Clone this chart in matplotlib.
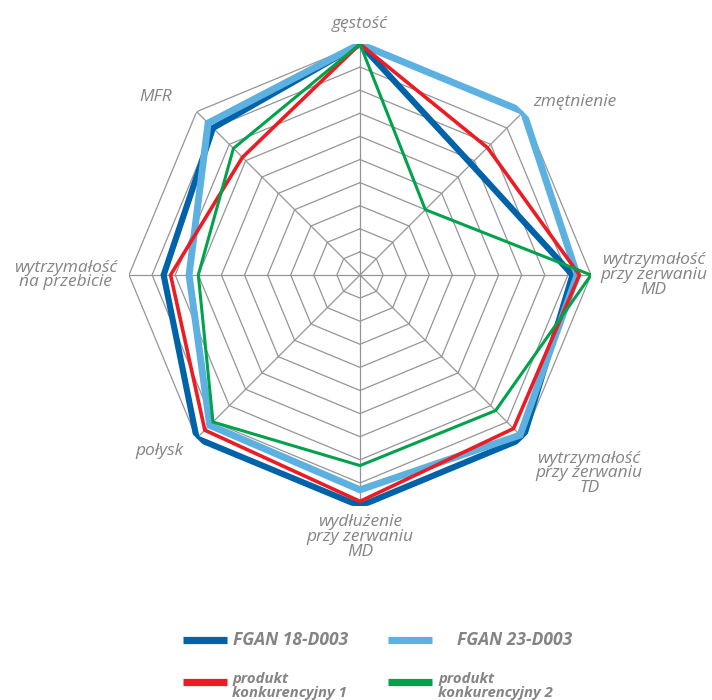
import numpy as np
import matplotlib
matplotlib.use("Agg")
import matplotlib.pyplot as plt
from matplotlib.lines import Line2D

# --------------------------------------------------------
# Data (scale 0-10, clockwise from the top)
# --------------------------------------------------------

categories = [
    "gęstość",
    "zmętnienie",
    "wytrzymałość\nprzy zerwaniu\nMD",
    "wytrzymałość\nprzy zerwaniu\nTD",
    "wydłużenie\nprzy zerwaniu\nMD",
    "połysk",
    "wytrzymałość\nna przebicie",
    "MFR",
]

fgan_18 = [10, 6.8, 9.2, 10, 10, 10, 8.5, 9.0]
fgan_23 = [10, 10, 9.4, 9.8, 9.3, 9.2, 7.4, 9.3]
konk_1 = [10, 7.8, 9.5, 9.4, 9.8, 9.5, 8.2, 7.2]
konk_2 = [10, 4.0, 10, 8.3, 8.25, 9.0, 7.0, 7.75]

series_names = ["FGAN 18-D003", "FGAN 23-D003",
                "produkt\nkonkurencyjny 1", "produkt\nkonkurencyjny 2"]

levels = list(range(1, 11))

# --------------------------------------------------------
# Styles
# --------------------------------------------------------

DARK_BLUE = "#0062a9"
LIGHT_BLUE = "#5cb1e1"
RED = "#ec1c24"
GREEN = "#00a24b"
GRID = "#959595"
TEXT = "#848484"

FONT = "Open Sans"

fig = plt.figure(figsize=(7.12, 7.0), dpi=100)
ax = fig.add_axes([129 / 712, 194 / 700, 462 / 712, 462 / 700], projection="polar")
ax.set_theta_zero_location("N")
ax.set_theta_direction(-1)
ax.set_ylim(0, 10)
ax.axis("off")

n = len(categories)
angles = np.linspace(0, 2 * np.pi, n, endpoint=False)
closed = np.append(angles, angles[0])

# octagon grid
for lv in levels:
    ax.plot(closed, [lv] * (n + 1), color=GRID, lw=0.9, zorder=1)
for a in angles:
    ax.plot([a, a], [0, 10], color=GRID, lw=0.9, zorder=1)

# series
styles = [
    (fgan_18, DARK_BLUE, 4.4),
    (fgan_23, LIGHT_BLUE, 5.0),
    (konk_1, RED, 2.6),
    (konk_2, GREEN, 2.2),
]
for i, (vals, col, lw) in enumerate(styles):
    ax.plot(closed, vals + vals[:1], color=col, lw=lw,
            solid_joinstyle="miter", zorder=2 + i)

# axis labels
lab_kw = dict(color=TEXT, fontsize=12.5, style="italic", family=FONT,
              multialignment="center", linespacing=0.9)
label_pos = [
    (0, 10.85, "center", "center"),
    (45, 10.6, "left", "center"),
    (90, 10.4, "left", "center"),
    (135, 10.75, "left", "top"),
    (180, 10.35, "center", "top"),
    (225, 10.8, "right", "center"),
    (270, 10.5, "right", "center"),
    (313.4, 11.2, "right", "center"),
]
for (deg, r, ha, va), txt in zip(label_pos, categories):
    ax.text(np.deg2rad(deg), r, txt, ha=ha, va=va, **lab_kw)

# --------------------------------------------------------
# Legend (drawn by hand, two rows)
# --------------------------------------------------------

leg_colors = [DARK_BLUE, LIGHT_BLUE, RED, GREEN]
leg_lines = [(183, 640), (388, 640), (183, 682), (388, 682)]
leg_text = [(233, 640, 12.5), (457, 640, 12.5), (232, 686, 10.7), (438, 686, 10.7)]

for col, (x0, y0) in zip(leg_colors, leg_lines):
    fig.add_artist(Line2D([x0 / 712, (x0 + 44) / 712], [1 - y0 / 700, 1 - y0 / 700],
                          color=col, lw=5.2, solid_capstyle="butt",
                          transform=fig.transFigure))

for name, (x0, y0, fs) in zip(series_names, leg_text):
    fig.text(x0 / 712, 1 - y0 / 700, name, color=TEXT, fontsize=fs,
             style="italic", weight="bold", family=FONT,
             ha="left", va="center", linespacing=1.05)

fig.savefig("out.png", dpi=100, facecolor="white")
